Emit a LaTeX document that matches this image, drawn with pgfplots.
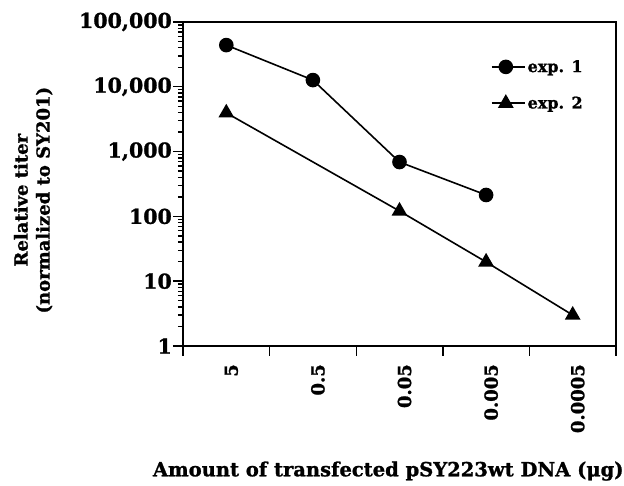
\documentclass[border=0pt]{standalone}
\usepackage{pgfplots}
\pgfplotsset{compat=1.18}
\usepackage{fontspec}
\setmainfont{DejaVu Serif}[BoldFeatures={FakeBold=1.2}]
\begin{document}
\begin{tikzpicture}[x=1pt,y=1pt]
\useasboundingbox (0,0) rectangle (624,486);
\begin{axis}[
  at={(183pt,140pt)}, anchor=south west,
  scale only axis, width=433pt, height=324pt,
  ymode=log, ymin=1, ymax=100000,
  xmin=0, xmax=5,
  axis line style={line width=1.6pt},
  tick align=outside,
  xtick pos=bottom, ytick pos=left,
  major tick length=10pt, minor tick length=5pt,
  every tick/.style={line width=1.4pt, black},
  font=\bfseries\fontsize{19}{22}\selectfont,
  /pgf/number format/assume math mode=true,
  ytick={1,10,100,1000,10000,100000},
  yticklabels={1,10,100,{1,000},{10,000},{100,000}},
  minor ytick={2,3,4,5,6,7,8,9,20,30,40,50,60,70,80,90,200,300,400,500,600,700,800,900,2000,3000,4000,5000,6000,7000,8000,9000,20000,30000,40000,50000,60000,70000,80000,90000},
  yticklabel style={font=\bfseries\fontsize{20.5}{24}\selectfont, inner sep=1pt},
  xtick={0,1,2,3,4,5},
  xticklabels={},
  extra x ticks={0.5,1.5,2.5,3.5,4.5},
  extra x tick labels={5,0.5,0.05,0.005,0.0005},
  extra x tick style={major tick length=0pt,
    tick label style={rotate=90, anchor=east, inner sep=0pt, xshift=-18pt, yshift=-5pt,
      font=\bfseries\fontsize{18}{21}\selectfont}},
  xlabel={Amount of transfected pSY223wt DNA (μg)},
  xlabel style={at={(axis description cs:0.474,-0.386)}, anchor=center, inner sep=0pt,
    font=\bfseries\fontsize{19.5}{23}\selectfont},
  ylabel={Relative titer\\(normalized to SY201)},
  ylabel style={at={(axis description cs:-0.346,0.45)}, anchor=center, align=center,
    font=\bfseries\fontsize{18}{22}\selectfont},
  legend style={at={(0.704,0.895)}, anchor=north west, draw=none, fill=none,
    font=\bfseries\fontsize{16}{19}\selectfont, row sep=19pt},
  legend cell align=left,
  legend image code/.code={
    \draw[mark repeat=2,mark phase=2] plot coordinates {(0pt,0pt) (14pt,0pt) (28pt,0pt)};
    \path (0pt,0pt) -- (33pt,0pt);},
]
% exp. 1: circles
\addplot[black, line width=1.6pt, mark=*, mark size=6.5pt, mark options={solid}]
  coordinates {(0.5,44000) (1.5,12700) (2.5,690) (3.5,214)};
\addlegendentry{exp. 1}
% exp. 2: triangles (no measurement at 0.5 ug)
\addplot[black, line width=1.6pt, mark=triangle*, mark size=7.5pt, mark options={solid}]
  coordinates {(0.5,3960) (2.5,121) (3.5,19.8) (4.5,3.0)};
\addlegendentry{exp. 2}
\end{axis}
\end{tikzpicture}
\end{document}
